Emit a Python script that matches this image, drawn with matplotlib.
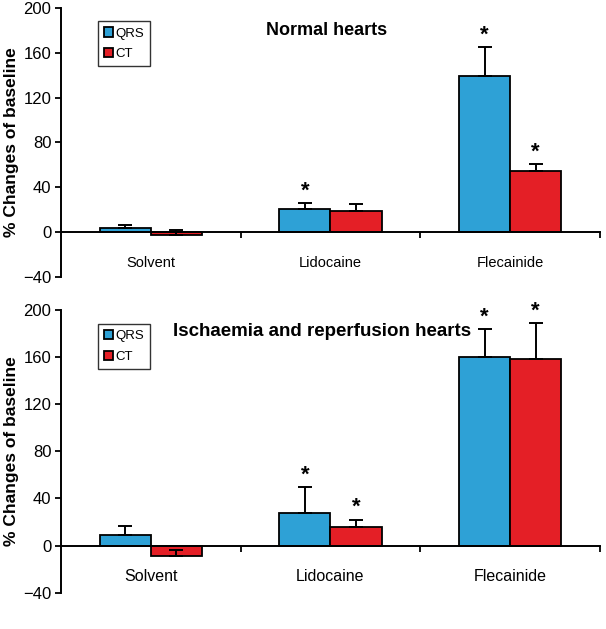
import matplotlib
matplotlib.use("Agg")
import matplotlib.pyplot as plt
import numpy as np

# data (% change from baseline)
drugs = ["Solvent", "Lidocaine", "Flecainide"]
series = ["QRS", "CT"]

normal_qrs = [3.3, 20.3, 139.5]
normal_qrs_err = [2.7, 6.0, 25.5]
normal_ct = [-2.8, 18.8, 55.0]
normal_ct_err = [4.3, 6.2, 5.5]
normal_qrs_sig = [False, True, True]
normal_ct_sig = [False, False, True]

isch_qrs = [8.7, 27.4, 160.4]
isch_qrs_err = [7.7, 22.6, 23.5]
isch_ct = [-8.8, 16.1, 158.5]
isch_ct_err = [5.4, 6.0, 30.5]
isch_qrs_sig = [False, True, True]
isch_ct_sig = [False, True, True]

blue = "#2ea1d6"
red = "#e41f26"
font = ["Liberation Sans", "DejaVu Sans"]
plt.rcParams["font.family"] = font


def draw_panel(ax, qrs, qrs_err, ct, ct_err, qrs_sig, ct_sig, title, title_x, title_y, title_size, cat_size):
    x = np.arange(len(drugs))
    w = 0.285
    for vals, errs, sigs, off, col, lab in [
        (qrs, qrs_err, qrs_sig, -w / 2, blue, series[0]),
        (ct, ct_err, ct_sig, w / 2, red, series[1]),
    ]:
        pos = x + off
        ax.bar(pos, vals, w, color=col, edgecolor="black", linewidth=1.3, label=lab, zorder=2)
        ax.errorbar(pos, vals, yerr=[np.zeros(len(errs)), errs], fmt="none",
                    ecolor="black", elinewidth=1.4, capsize=5.2, capthick=1.4, zorder=3)
        for p, v, e, s in zip(pos, vals, errs, sigs):
            if s:
                ax.annotate("*", (p, v + e), xytext=(0, 1), textcoords="offset points",
                            ha="center", va="bottom", fontsize=16, fontweight="bold")

    ax.set_xlim(-0.5, 2.5)
    ax.set_ylim(-40, 200)
    ax.tick_params(axis="y", direction="out", length=4, width=1.3, pad=3, labelsize=12)
    ax.set_yticks([-40, 0, 40, 80, 120, 160, 200])
    ax.set_yticklabels(["\u221240", "0", "40", "80", "120", "160", "200"])

    ax.tick_params(axis="x", which="major", direction="out", length=4, width=1.3)
    ax.tick_params(axis="x", which="minor", length=0, pad=17, labelsize=cat_size)
    ax.set_xticks([0.5, 1.5, 2.5])
    ax.set_xticklabels([])
    ax.set_xticks(x, minor=True)
    ax.set_xticklabels(drugs, minor=True)

    ax.spines["bottom"].set_position(("data", 0))
    ax.spines["bottom"].set_linewidth(1.4)
    ax.spines["left"].set_linewidth(1.4)
    ax.spines["top"].set_visible(False)
    ax.spines["right"].set_visible(False)

    ax.set_ylabel("% Changes of baseline", fontsize=12.5, fontweight="bold", labelpad=3)
    ax.text(title_x, title_y, title, ha="center", va="center", fontsize=title_size,
            fontweight="bold")

    leg = ax.legend(loc="upper left", bbox_to_anchor=(0.068, 0.95), borderaxespad=0,
                    fancybox=False, edgecolor="black", handlelength=0.7, handleheight=0.7,
                    handletextpad=0.2, labelspacing=0.65, borderpad=0.45, fontsize=9.5)
    leg.get_frame().set_linewidth(1.0)


fig = plt.figure(figsize=(6.06, 6.29), dpi=100)
ax1 = fig.add_axes([0.1007, 0.5596, 0.8893, 0.4277])
ax2 = fig.add_axes([0.1007, 0.0577, 0.8893, 0.4495])

draw_panel(ax1, normal_qrs, normal_qrs_err, normal_ct, normal_ct_err,
           normal_qrs_sig, normal_ct_sig, "Normal hearts", 0.98, 180, 13, 10.5)
draw_panel(ax2, isch_qrs, isch_qrs_err, isch_ct, isch_ct_err,
           isch_qrs_sig, isch_ct_sig, "Ischaemia and reperfusion hearts", 0.955, 182, 13.5, 11.5)

fig.savefig("out.png", dpi=100)
